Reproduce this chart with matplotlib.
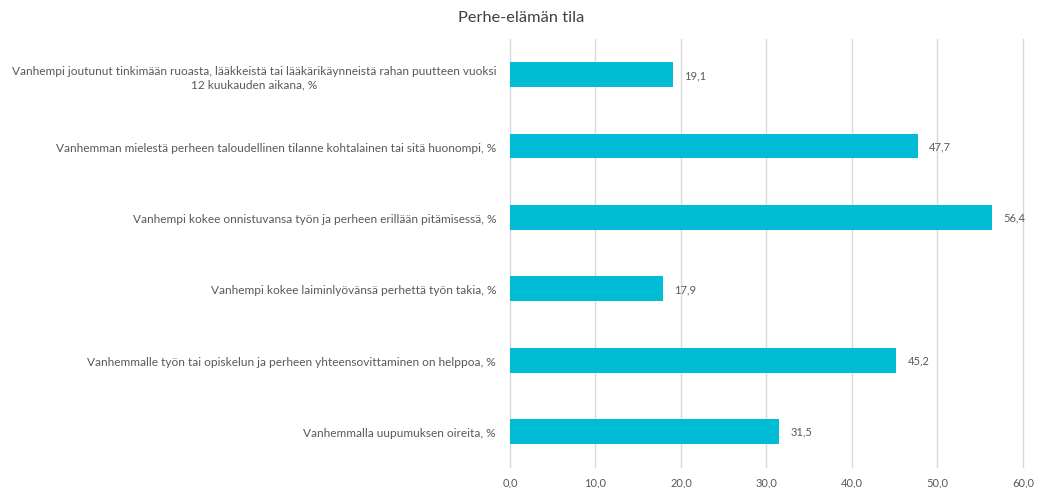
import matplotlib
matplotlib.use("Agg")
import matplotlib.pyplot as plt
import numpy as np

plt.rcParams["font.family"] = ["Lato", "DejaVu Sans"]

# categories from top to bottom
categories = [
    "Vanhempi joutunut tinkimään ruoasta, lääkkeistä tai lääkärikäynneistä rahan puutteen vuoksi\n12 kuukauden aikana, %",
    "Vanhemman mielestä perheen taloudellinen tilanne kohtalainen tai sitä huonompi, %",
    "Vanhempi kokee onnistuvansa työn ja perheen erillään pitämisessä, %",
    "Vanhempi kokee laiminlyövänsä perhettä työn takia, %",
    "Vanhemmalle työn tai opiskelun ja perheen yhteensovittaminen on helppoa, %",
    "Vanhemmalla uupumuksen oireita, %",
]
values = [19.1, 47.7, 56.4, 17.9, 45.2, 31.5]
xticks = [0, 10, 20, 30, 40, 50, 60]

C_BAR = "#00BCD4"
C_TEXT = "#595959"
C_GRID = "#D9D9D9"

fig = plt.figure(figsize=(10.37, 4.89), dpi=100)
ax = fig.add_axes([0.4918, 0.0429, 0.4947, 0.8753])

y = np.arange(len(values))
ax.barh(y, values, height=0.35, color=C_BAR, zorder=3)
ax.set_ylim(len(values) - 0.5, -0.5)
ax.set_xlim(0, 60)

for yi, v in zip(y, values):
    ax.text(v + 1.3, yi, f"{v:.1f}".replace(".", ","), va="center", ha="left",
            fontsize=8, color=C_TEXT)

ax.set_xticks(xticks)
ax.set_xticklabels([f"{t:.1f}".replace(".", ",") for t in xticks],
                   fontsize=8, color=C_TEXT)
ax.set_yticks(y)
ax.set_yticklabels(categories, fontsize=8.6, color=C_TEXT,
                   multialignment="center", linespacing=1.3)
ax.tick_params(axis="both", length=0)
ax.tick_params(axis="x", pad=7)
ax.tick_params(axis="y", pad=10)

ax.grid(True, axis="x", color=C_GRID, linewidth=1, zorder=0)
for line in ax.get_xgridlines():
    line.set_clip_on(False)
for side in ("top", "right", "bottom", "left"):
    ax.spines[side].set_visible(False)

fig.text(0.503, 0.963, "Perhe-elämän tila", ha="center", va="center",
         fontsize=11.8, color="#404040")

fig.savefig("out.png", dpi=100)
